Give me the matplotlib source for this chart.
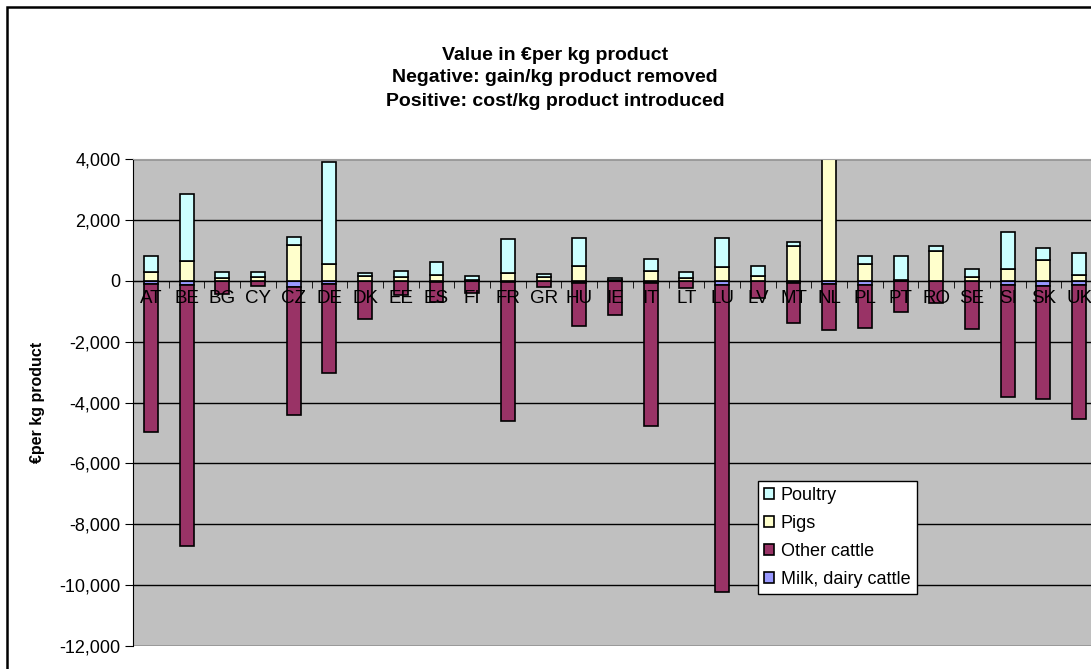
import numpy as np
import matplotlib.pyplot as plt
import matplotlib.ticker as mtick
from matplotlib.patches import Rectangle

plt.rcParams['font.family'] = ['Liberation Sans', 'DejaVu Sans']
plt.rcParams['axes.unicode_minus'] = False

# data
countries = ["AT", "BE", "BG", "CY", "CZ", "DE", "DK", "EE", "ES", "FI", "FR", "GR", "HU", "IE",
             "IT", "LT", "LU", "LV", "MT", "NL", "PL", "PT", "RO", "SE", "SI", "SK", "UK"]
milk = [-100, -150, -20, 0, -200, -120, 0, 0, -30, 0, -40, 0, -90, 0,
        -80, 0, -140, 0, -80, -100, -140, -20, -20, 0, -130, -170, -130]
other_cattle = [-4880, -8550, -430, -180, -4200, -2910, -1250, -480, -670, -400, -4580, -220, -1385, -1115,
                -4690, -230, -10090, -570, -1310, -1510, -1425, -1000, -700, -1600, -3700, -3700, -4400]
pigs = [300, 656, 100, 120, 1180, 557, 150, 130, 174, 30, 262, 108, 480, 40,
        305, 98, 436, 150, 1158, 4300, 535, 30, 971, 131, 393, 666, 185]
poultry = [500, 2185, 200, 180, 273, 3346, 110, 186, 437, 110, 1115, 109, 940, 60,
           416, 174, 984, 342, 121, 0, 262, 767, 187, 262, 1202, 394, 743]
yticks = [-12000, -10000, -8000, -6000, -4000, -2000, 0, 2000, 4000]

title_lines = ["Value in €per kg product",
               "Negative: gain/kg product removed",
               "Positive: cost/kg product introduced"]

W, H = 1091, 669
fig = plt.figure(figsize=(W / 100, H / 100), dpi=100)

# plot area in pixels: left 133, top 159, right 1097 (runs off the picture), bottom 646
ax = fig.add_axes([133 / W, (H - 646) / H, 964 / W, 487 / H])
ax.set_facecolor("#C0C0C0")

x = np.arange(len(countries))
w = 0.39
kw = dict(width=w, edgecolor="black", linewidth=1.2, zorder=2)
ax.bar(x, milk, color="#9999FF", label="Milk, dairy cattle", **kw)
ax.bar(x, other_cattle, bottom=milk, color="#993366", label="Other cattle", **kw)
ax.bar(x, pigs, color="#FFFFCC", label="Pigs", **kw)
ax.bar(x, poultry, bottom=pigs, color="#CCFFFF", label="Poultry", **kw)

ax.set_xlim(-0.5, len(countries) - 0.5)
ax.set_ylim(-12000, 4000)
ax.set_yticks(yticks)
ax.yaxis.set_major_formatter(mtick.StrMethodFormatter('{x:,.0f}'))
ax.yaxis.grid(True, color="black", linewidth=1)
ax.set_axisbelow(True)

ax.spines["bottom"].set_position(("data", 0))
ax.spines["bottom"].set_zorder(3)
ax.spines["right"].set_visible(False)
ax.spines["top"].set_color("#A0A0A0")
ax.spines["left"].set_color("black")
ax.xaxis.set_zorder(4)

ax.set_xticks(x)
ax.set_xticklabels(countries)
ax.set_xticks(np.arange(-0.5, len(countries), 1), minor=True)
ax.tick_params(axis="x", which="major", length=0, pad=7, labelsize=13.5)
ax.tick_params(axis="x", which="minor", length=5, direction="out", color="black")
ax.tick_params(axis="y", length=6, direction="out", pad=3, labelsize=13)

ax.set_ylabel("€per kg product", fontsize=11.5, fontweight="bold", labelpad=10)

handles, labels = ax.get_legend_handles_labels()
leg = ax.legend(handles[::-1], labels[::-1], loc="upper left",
                bbox_to_anchor=((758 - 133) / 964, (646 - 481) / 487),
                borderaxespad=0, fancybox=False, framealpha=1, edgecolor="black",
                fontsize=13, handlelength=0.55, handleheight=0.55, handletextpad=0.35,
                labelspacing=0.6, borderpad=0.35)
leg.get_frame().set_linewidth(1)
leg.set_zorder(6)

for i, line in enumerate(title_lines):
    fig.text(555 / W, 1 - (55 + 23 * i) / H, line, ha="center", va="center",
             fontsize=14, fontweight="bold")

# outer chart border
fig.patches.append(Rectangle((7 / W, -0.1), 1.2, 1 - 7 / H + 0.1, transform=fig.transFigure,
                             fill=False, edgecolor="black", linewidth=1.8))

fig.savefig("out.png", dpi=100)
